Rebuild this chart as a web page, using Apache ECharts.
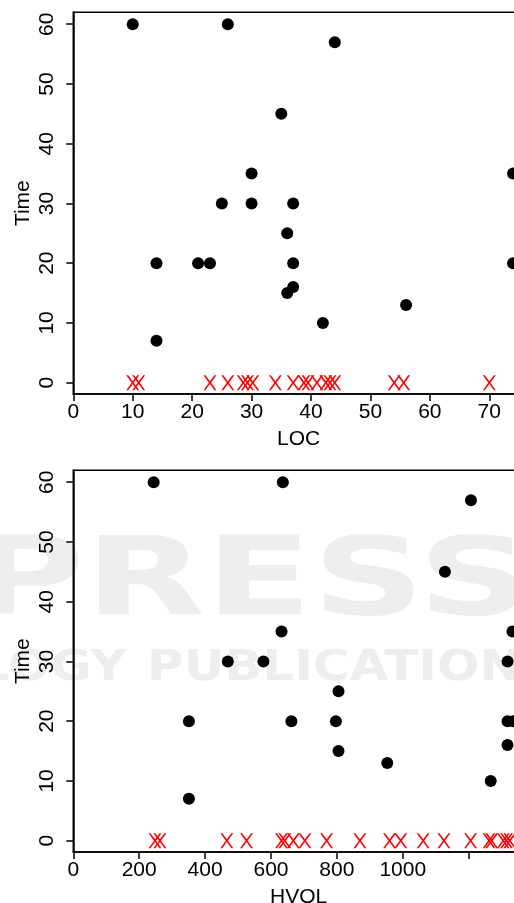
<!DOCTYPE html>
<html>
<head>
<meta charset="utf-8">
<script src="https://cdn.jsdelivr.net/npm/echarts@6/dist/echarts.min.js"></script>
<style>
  html, body { margin: 0; padding: 0; background: #fff; overflow: hidden; width: 514px; height: 903px; }
  #chart { width: 560px; height: 903px; }
</style>
</head>
<body>
<div id="chart"></div>
<script>
// Observed projects: size (LOC) and effort time
const locX    = [10, 26, 44, 35, 30, 74, 25, 30, 37, 14, 21, 23, 37, 74, 36, 36, 37, 42, 56, 14];
const locTime = [60, 60, 57, 45, 35, 35, 30, 30, 30, 20, 20, 20, 20, 20, 25, 15, 16, 10, 13, 7];
// Projects with zero time, by LOC
const locZeroX = [10, 11, 23, 26, 28.6, 29.3, 30.2, 34, 37, 38.8, 39.5, 41, 42.5, 43.2, 44, 54, 55.6, 70];

// Same projects by Halstead volume (HVOL)
const hvolX    = [244, 636, 1207, 1128, 632, 1333, 469, 577, 1318, 805, 351, 662, 797, 1318, 1335, 805, 1318, 953, 1267, 351];
const hvolTime = [60, 60, 57, 45, 35, 35, 30, 30, 30, 25, 20, 20, 20, 20, 20, 15, 16, 13, 10, 7];
const hvolZeroX = [248, 263, 466, 526, 632, 642, 668, 703, 769, 870, 960, 994, 1062, 1125, 1206, 1262, 1270, 1305, 1315, 1325];

// Tick positions
const timeTicks = [0, 10, 20, 30, 40, 50, 60];
const locTicks = [0, 10, 20, 30, 40, 50, 60, 70];
const hvolTicks = [0, 200, 400, 600, 800, 1000, 1200];
const hvolLabels = [0, 200, 400, 600, 800, 1000];

const FONT = 'Liberation Sans, Arial, Helvetica, sans-serif';
const crossPath = 'path://M0,0L15,0L50,47L85,0L100,0L58,57.5L100,115L85,115L50,68L15,115L0,115L42,57.5Z';
const plain = v => String(v);

function xAxisCfg(gridIndex, name, max, ticks, labels) {
  return {
    type: 'value', gridIndex, name, nameLocation: 'middle', nameGap: 35, nameMoveOverlap: false,
    nameTextStyle: { fontFamily: FONT, fontSize: 21, color: '#000' },
    min: 0, max,
    axisLine: { show: true, onZero: false, lineStyle: { color: '#000', width: 1.5 } },
    axisTick: { show: true, inside: false, length: 7, customValues: ticks, lineStyle: { color: '#000', width: 1.5 } },
    axisLabel: { show: true, margin: 8, customValues: labels, formatter: plain, fontFamily: FONT, fontSize: 21, color: '#000' },
    splitLine: { show: false }
  };
}
function yAxisCfg(gridIndex) {
  return {
    type: 'value', gridIndex, name: 'Time', nameLocation: 'middle', nameGap: 40, nameMoveOverlap: false,
    nameTextStyle: { fontFamily: FONT, fontSize: 21, color: '#000' },
    min: -1.9, max: 62,
    axisLine: { show: true, onZero: false, lineStyle: { color: '#000', width: 1.5 } },
    axisTick: { show: true, inside: false, length: 7, customValues: timeTicks, lineStyle: { color: '#000', width: 1.5 } },
    axisLabel: { show: true, rotate: 90, margin: 16, customValues: timeTicks, formatter: plain, fontFamily: FONT, fontSize: 21, color: '#000' },
    splitLine: { show: false }
  };
}
function dots(xs, ys, i) {
  return {
    type: 'scatter', xAxisIndex: i, yAxisIndex: i,
    data: xs.map((x, k) => [x, ys[k]]),
    symbol: 'circle', symbolSize: 12,
    itemStyle: { color: '#000', opacity: 1 }, z: 3
  };
}
function crosses(xs, i) {
  return {
    type: 'scatter', xAxisIndex: i, yAxisIndex: i,
    data: xs.map(x => [x, 0]),
    symbol: crossPath, symbolSize: [13, 15],
    itemStyle: { color: '#ff0000', opacity: 1 }, z: 4
  };
}

// Plot frames run 450.7px wide, past the right edge of the visible page
const gridBase = { left: 73.3, right: 36, height: 381.7, show: true, borderColor: '#000', borderWidth: 1.5,
  backgroundColor: 'transparent', containLabel: false, outerBoundsMode: 'none' };

const chart = echarts.init(document.getElementById('chart'), null, { renderer: 'canvas', width: 560, height: 903 });
chart.setOption({
  animation: false,
  backgroundColor: '#fff',
  graphic: [
    { type: 'text', left: -30, top: 532, z: -10, silent: true, scaleX: 1.45,
      style: { text: 'PRESS', fontFamily: 'DejaVu Sans', fontWeight: 'bold', fontSize: 108, fill: '#eeeeee' } },
    { type: 'text', left: -22, top: 648, z: -10, silent: true, scaleX: 1.19,
      style: { text: 'LOGY', fontFamily: 'DejaVu Sans', fontWeight: 'bold', fontSize: 42, fill: '#eeeeee' } },
    { type: 'text', left: 147, top: 648, z: -10, silent: true, scaleX: 1.19,
      style: { text: 'PUBLICATIONS', fontFamily: 'DejaVu Sans', fontWeight: 'bold', fontSize: 42, fill: '#eeeeee' } }
  ],
  grid: [
    Object.assign({ top: 12.3 }, gridBase),
    Object.assign({ top: 470.3 }, gridBase)
  ],
  xAxis: [
    xAxisCfg(0, 'LOC', 75.84, locTicks, locTicks),
    xAxisCfg(1, 'HVOL', 1368, hvolTicks, hvolLabels)
  ],
  yAxis: [yAxisCfg(0), yAxisCfg(1)],
  series: [
    dots(locX, locTime, 0),
    crosses(locZeroX, 0),
    dots(hvolX, hvolTime, 1),
    crosses(hvolZeroX, 1)
  ]
});
</script>
</body>
</html>
